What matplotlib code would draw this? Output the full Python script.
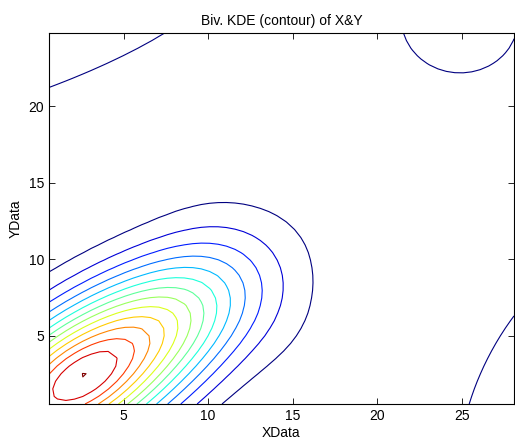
import numpy as np
import matplotlib.pyplot as plt

plt.rcParams['font.family'] = ['Liberation Sans', 'DejaVu Sans']

# density model: gaussian bumps (centre, spread, correlation, height)
bump_x = [2.6, 2.6, 9.5, 10.0, 14.8, 24.9, 31.0, -1.0]
bump_y = [2.3, 2.3, 7.0, 13.0, 6.0, 25.6, 1.0, 23.6]
bump_sx = [5.55, 1.6, 3.0, 2.5, 2.5, 3.3, 5.43, 11.18]
bump_sy = [4.72, 1.4, 3.0, 2.5, 3.3, 3.3, 8.46, 5.15]
bump_rho = [0.66, 0.2, 0.2, 0.0, 0.0, 0.0, 0.475, 0.815]
bump_amp = [13.45, 0.55, 1.1, 0.2, 0.45, 1.7, 1.9, 1.65]

x_range = [0.58, 28.1]
y_range = [0.53, 24.8]
levels = [1, 2, 3, 4, 5, 6, 7, 8, 9, 10, 11, 12, 13, 14]

xs = np.linspace(x_range[0], x_range[1], 56)
ys = np.linspace(y_range[0], y_range[1], 50)
X, Y = np.meshgrid(xs, ys)

Z = np.zeros_like(X)
for cx, cy, sx, sy, r, a in zip(bump_x, bump_y, bump_sx, bump_sy, bump_rho, bump_amp):
    dx = (X - cx) / sx
    dy = (Y - cy) / sy
    q = (dx**2 - 2 * r * dx * dy + dy**2) / (1 - r**2)
    Z += a * np.exp(-q / 2)

fig = plt.figure(figsize=(5.15, 4.43), dpi=100)
ax = fig.add_axes([49 / 515, 39 / 443, 465 / 515, 371 / 443])
ax.contour(X, Y, Z, levels=levels, cmap='jet', linewidths=0.8)

ax.set_xlim(x_range)
ax.set_ylim(y_range)
ax.set_xticks([5, 10, 15, 20, 25])
ax.set_yticks([5, 10, 15, 20])
ax.tick_params(direction='in', length=4.5, width=0.6, top=True, right=True, labelsize=10)
for s in ax.spines.values():
    s.set_linewidth(0.8)

ax.set_xlabel('XData', fontsize=10, labelpad=2)
ax.set_ylabel('YData', fontsize=10, labelpad=4)
ax.set_title('Biv. KDE (contour) of X&Y', fontsize=10, pad=6)

fig.savefig('out.png', dpi=100)
